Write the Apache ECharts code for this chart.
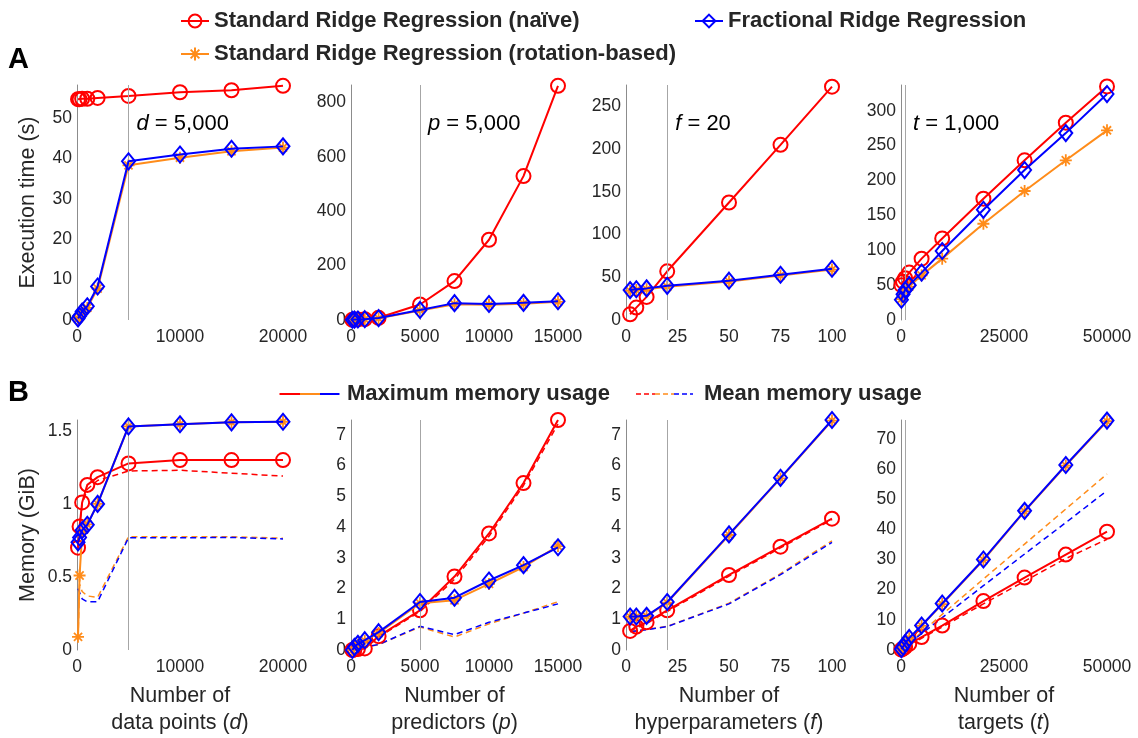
<!DOCTYPE html>
<html><head><meta charset="utf-8">
<script src="https://cdn.jsdelivr.net/npm/echarts@6/dist/echarts.min.js"></script>
<style>html,body{margin:0;padding:0;background:#fff}#c{width:1138px;height:738px}</style>
</head><body><div id="c"></div>
<script>
// ---------- x values ----------
const dVals = [100, 250, 500, 1000, 2000, 5000, 10000, 15000, 20000];
const pVals = [100, 250, 500, 1000, 2000, 5000, 7500, 10000, 12500, 15000];
const fVals = [2, 5, 10, 20, 50, 75, 100];
const tVals = [100, 500, 1000, 2000, 5000, 10000, 20000, 30000, 40000, 50000];

// ---------- A: execution time (s) ----------
const timeD_naive = [54.7, 54.7, 54.8, 54.8, 55.0, 55.5, 56.4, 56.9, 58.0];
const timeD_rot   = [0.3, 0.8, 1.8, 3.0, 7.8, 38.3, 40.2, 41.8, 42.7];
const timeD_frac  = [0.4, 1.0, 2.1, 3.4, 8.3, 39.3, 41.0, 42.4, 43.0];

const timeP_naive = [1, 1.5, 2, 3, 8, 57, 143, 295, 529, 861];
const timeP_rot   = [0.5, 1, 1.5, 2.5, 6, 35, 58, 56, 60, 67];
const timeP_frac  = [1, 1.5, 2, 3, 7, 37, 62, 59, 63, 69];

const timeF_naive = [6.6, 14.5, 27, 57, 137.5, 205, 273];
const timeF_rot   = [34, 35, 36, 39, 45, 52, 59];
const timeF_frac  = [35, 36, 37, 40, 46, 53, 60];

const timeT_naive = [50, 55, 60, 68, 88, 117, 174, 229, 283, 335];
const timeT_rot   = [30, 38, 43, 48, 64, 88, 138, 185, 229, 272];
const timeT_frac  = [29, 37, 43, 50, 68, 99, 158, 215, 268, 324];

// ---------- B: memory (GiB) ----------
const memD_naiveMax  = [0.70, 0.846, 1.01, 1.13, 1.183, 1.277, 1.30, 1.30, 1.30];
const memD_naiveMean = [0.69, 0.84, 1.00, 1.10, 1.16, 1.225, 1.23, 1.21, 1.19];
const memD_rotMax    = [0.09, 0.51, 0.80, 0.86, 1.00, 1.53, 1.545, 1.558, 1.562];
const memD_rotMean   = [0.08, 0.45, 0.40, 0.37, 0.36, 0.775, 0.775, 0.775, 0.765];
const memD_fracMax   = [0.737, 0.77, 0.82, 0.857, 1.00, 1.53, 1.545, 1.558, 1.562];
const memD_fracMean  = [0.42, 0.41, 0.35, 0.33, 0.33, 0.768, 0.768, 0.77, 0.76];

const memP_naiveMax  = [0.0, 0.02, 0.03, 0.05, 0.45, 1.29, 2.39, 3.79, 5.43, 7.48];
const memP_naiveMean = [0.0, 0.02, 0.03, 0.05, 0.42, 1.25, 2.30, 3.70, 5.35, 7.35];
const memP_rotMax    = [0.0, 0.08, 0.18, 0.30, 0.55, 1.52, 1.62, 2.15, 2.70, 3.38];
const memP_rotMean   = [0.0, 0.03, 0.06, 0.10, 0.17, 0.75, 0.42, 0.85, 1.20, 1.57];
const memP_fracMax   = [0.0, 0.10, 0.20, 0.32, 0.58, 1.56, 1.70, 2.26, 2.76, 3.34];
const memP_fracMean  = [0.0, 0.03, 0.06, 0.10, 0.18, 0.77, 0.50, 0.90, 1.20, 1.50];

const memF_naiveMax  = [0.62, 0.76, 0.90, 1.29, 2.44, 3.36, 4.27];
const memF_naiveMean = [0.60, 0.72, 0.86, 1.25, 2.40, 3.32, 4.24];
const memF_rotMax    = [1.08, 1.08, 1.10, 1.54, 3.74, 5.58, 7.46];
const memF_rotMean   = [0.60, 0.63, 0.67, 0.77, 1.52, 2.48, 3.55];
const memF_fracMax   = [1.09, 1.09, 1.11, 1.56, 3.76, 5.60, 7.48];
const memF_fracMean  = [0.60, 0.62, 0.66, 0.76, 1.50, 2.45, 3.50];

const memT_naiveMax  = [0.1, 0.5, 1.0, 2.0, 4.3, 8.1, 16.2, 24.0, 31.6, 39.2];
const memT_naiveMean = [0.1, 0.45, 0.9, 1.8, 3.9, 7.6, 15.3, 22.8, 30.3, 36.7];
const memT_rotMax    = [0.3, 1.0, 2.1, 3.9, 8.0, 15.2, 29.8, 45.9, 61.1, 75.8];
const memT_rotMean   = [0.1, 0.6, 1.2, 2.4, 5.9, 11.8, 23.5, 35.1, 46.7, 58.3];
const memT_fracMax   = [0.3, 1.1, 2.2, 4.0, 8.1, 15.4, 30.0, 46.1, 61.3, 76.0];
const memT_fracMean  = [0.1, 0.6, 1.1, 2.2, 5.4, 10.7, 21.3, 31.8, 42.2, 52.8];

// ---------- labels ----------
const NAME_NAIVE = 'Standard Ridge Regression (naïve)';
const NAME_ROT = 'Standard Ridge Regression (rotation-based)';
const NAME_FRAC = 'Fractional Ridge Regression';
const xTitles = ['Number of\ndata points ({i|d})', 'Number of\npredictors ({i|p})', 'Number of\nhyperparameters ({i|f})', 'Number of\ntargets ({i|t})'];
const annVar = ['d', 'p', 'f', 't'];
const annVal = ['5,000', '5,000', '20', '1,000'];
const refX = [5000, 5000, 20, 1000];

// ---------- styling ----------
const FONT = 'Liberation Sans, Arial, Helvetica, sans-serif';
const TXT = '#262626';
const RED = '#FF0000', OR = '#FF8C1A', BL = '#0000FF';
const AST = 'path://M5,0L5,10M0,5L10,5M1.6,1.6L8.4,8.4M1.6,8.4L8.4,1.6';
const lefts = [77, 351, 626, 901], widths = [206, 207, 206, 206];
const rowTop = [85, 420], rowH = 235;

const xCfg = [
  {xs: dVals, max: 20000, interval: 10000},
  {xs: pVals, max: 15000, interval: 5000},
  {xs: fVals, max: 100, interval: 25},
  {xs: tVals, max: 50000, interval: 25000}
];
const yCfgA = [{max: 58.2, interval: 10}, {max: 864, interval: 200}, {max: 275, interval: 50}, {max: 337, interval: 50}];
const yCfgB = [{max: 1.574, interval: 0.5}, {max: 7.48, interval: 1}, {max: 7.48, interval: 1}, {max: 76.2, interval: 10}];

const timeData = [
  [timeD_naive, timeD_rot, timeD_frac],
  [timeP_naive, timeP_rot, timeP_frac],
  [timeF_naive, timeF_rot, timeF_frac],
  [timeT_naive, timeT_rot, timeT_frac]
];
const memData = [
  [memD_naiveMax, memD_rotMax, memD_fracMax, memD_naiveMean, memD_rotMean, memD_fracMean],
  [memP_naiveMax, memP_rotMax, memP_fracMax, memP_naiveMean, memP_rotMean, memP_fracMean],
  [memF_naiveMax, memF_rotMax, memF_fracMax, memF_naiveMean, memF_rotMean, memF_fracMean],
  [memT_naiveMax, memT_rotMax, memT_fracMax, memT_naiveMean, memT_rotMean, memT_fracMean]
];

const grids = [], xAxes = [], yAxes = [], series = [];
function tickFmt(interval) {
  return function (v) {
    const k = v / interval;
    return Math.abs(k - Math.round(k)) < 1e-6 ? String(+v.toFixed(6)) : '';
  };
}
const labelStyle = {color: TXT, fontSize: 17.5, fontFamily: FONT};
const nameStyle = {color: TXT, fontSize: 21.5, fontFamily: FONT};

function styleFor(kind) {
  if (kind === 'naive') return {symbol: 'circle', symbolSize: 14, z: 3,
    lineStyle: {color: RED, width: 2}, itemStyle: {color: 'rgba(255,255,255,0)', borderColor: RED, borderWidth: 2}};
  if (kind === 'rot') return {symbol: AST, symbolSize: 12, z: 4,
    lineStyle: {color: OR, width: 2}, itemStyle: {color: OR, borderColor: OR, borderWidth: 1.8}};
  if (kind === 'frac') return {symbol: 'diamond', symbolSize: [13, 16], z: 5,
    lineStyle: {color: BL, width: 2}, itemStyle: {color: 'rgba(255,255,255,0)', borderColor: BL, borderWidth: 2}};
  const c = kind === 'naiveMean' ? RED : kind === 'rotMean' ? OR : BL;
  return {symbol: 'none', z: 2, lineStyle: {color: c, width: 1.5, type: [6, 4]}, itemStyle: {color: c}};
}

for (let row = 0; row < 2; row++) {
  for (let c = 0; c < 4; c++) {
    const g = row * 4 + c;
    grids.push({left: lefts[c], top: rowTop[row], width: widths[c], height: rowH, containLabel: false});
    const xa = {type: 'value', gridIndex: g, min: 0, max: xCfg[c].max, interval: xCfg[c].interval,
      axisLine: {show: false}, axisTick: {show: false}, splitLine: {show: false},
      axisLabel: Object.assign({margin: 8, formatter: tickFmt(xCfg[c].interval)}, labelStyle)};
    if (row === 1) {
      xa.name = xTitles[c];
      xa.nameLocation = 'middle';
      xa.nameGap = 33;
      xa.nameTextStyle = Object.assign({lineHeight: 27,
        rich: {i: {fontStyle: 'italic', fontSize: 21.5, fontFamily: FONT, color: TXT, lineHeight: 27}}}, nameStyle);
    }
    xAxes.push(xa);
    const yc = row === 0 ? yCfgA[c] : yCfgB[c];
    const ya = {type: 'value', gridIndex: g, min: 0, max: yc.max, interval: yc.interval,
      axisLine: {show: true, lineStyle: {color: '#8c8c8c', width: 1}}, axisTick: {show: false}, splitLine: {show: false},
      axisLabel: Object.assign({margin: 5, formatter: tickFmt(yc.interval)}, labelStyle)};
    if (c === 0) {
      ya.name = row === 0 ? 'Execution time (s)' : 'Memory (GiB)';
      ya.nameLocation = 'middle';
      ya.nameGap = 38;
      ya.nameTextStyle = nameStyle;
    }
    yAxes.push(ya);

    const xs = xCfg[c].xs;
    const toPairs = ys => xs.map((x, i) => [x, ys[i]]);
    const base = {type: 'line', xAxisIndex: g, yAxisIndex: g, silent: true, emphasis: {disabled: true}};
    let list;
    if (row === 0) {
      list = [['naive', NAME_NAIVE, timeData[c][0]], ['rot', NAME_ROT, timeData[c][1]], ['frac', NAME_FRAC, timeData[c][2]]];
    } else {
      list = [['naiveMean', 'Mean (naïve)', memData[c][3]], ['rotMean', 'Mean (rotation-based)', memData[c][4]],
        ['fracMean', 'Mean (fractional)', memData[c][5]],
        ['naive', NAME_NAIVE, memData[c][0]], ['rot', NAME_ROT, memData[c][1]], ['frac', NAME_FRAC, memData[c][2]]];
    }
    list.forEach((it, k) => {
      const s = Object.assign({}, base, styleFor(it[0]), {name: it[1], data: toPairs(it[2])});
      if (k === 0) {
        s.markLine = {silent: true, symbol: ['none', 'none'], label: {show: false}, animation: false,
          lineStyle: {color: '#a6a6a6', width: 1, type: 'solid'}, emphasis: {disabled: true},
          data: [{xAxis: refX[c]}]};
      }
      series.push(s);
    });
  }
}

const legendText = {fontSize: 22, fontWeight: 'bold', color: TXT, fontFamily: FONT};
const legendBase = {selectedMode: false, itemWidth: 28, itemHeight: 16, textStyle: legendText, padding: 0};

const chart = echarts.init(document.getElementById('c'), null, {renderer: 'canvas'});
chart.setOption({
  animation: false,
  backgroundColor: '#ffffff',
  grid: grids, xAxis: xAxes, yAxis: yAxes, series: series,
  legend: [
    Object.assign({data: [NAME_NAIVE], left: 180, top: 10}, legendBase),
    Object.assign({data: [NAME_FRAC], left: 694, top: 10}, legendBase),
    Object.assign({data: [NAME_ROT], left: 180, top: 43}, legendBase)
  ]
});

// annotations and second legend
const gfx = [];
gfx.push({type: 'text', x: 8, y: 60, style: {text: 'A', fontSize: 29, fontWeight: 'bold', fontFamily: FONT, fill: '#000', verticalAlign: 'middle'}});
gfx.push({type: 'text', x: 8, y: 393, style: {text: 'B', fontSize: 29, fontWeight: 'bold', fontFamily: FONT, fill: '#000', verticalAlign: 'middle'}});
for (let c = 0; c < 4; c++) {
  const px = chart.convertToPixel({xAxisIndex: c}, refX[c]);
  gfx.push({type: 'text', x: px + 8, y: rowTop[0] + 39, style: {
    text: '{i|' + annVar[c] + '} = ' + annVal[c], fontSize: 22, fontFamily: FONT, fill: '#000', verticalAlign: 'middle',
    rich: {i: {fontStyle: 'italic', fontSize: 22, fontFamily: FONT, fill: '#000'}}}});
}
const ly = 394;
[[279.5, 300, RED], [300, 320, OR], [320, 339.5, BL]].forEach(s => {
  gfx.push({type: 'line', shape: {x1: s[0], y1: ly, x2: s[1], y2: ly}, style: {stroke: s[2], lineWidth: 2}});
});
gfx.push({type: 'text', x: 347, y: ly, style: {text: 'Maximum memory usage', fontSize: 22, fontWeight: 'bold', fontFamily: FONT, fill: TXT, verticalAlign: 'middle'}});
[[636, 655, RED], [655, 674, OR], [674, 693, BL]].forEach(s => {
  gfx.push({type: 'line', shape: {x1: s[0], y1: ly, x2: s[1], y2: ly}, style: {stroke: s[2], lineWidth: 1.5, lineDash: [5, 3]}});
});
gfx.push({type: 'text', x: 704, y: ly, style: {text: 'Mean memory usage', fontSize: 22, fontWeight: 'bold', fontFamily: FONT, fill: TXT, verticalAlign: 'middle'}});
chart.setOption({graphic: gfx});
</script></body></html>
